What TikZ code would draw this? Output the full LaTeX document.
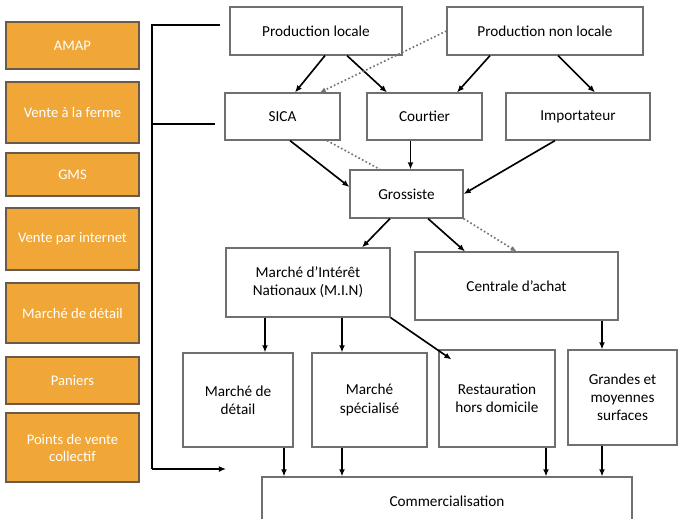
\documentclass[tikz,border=0pt]{standalone}
\usepackage{fontspec}
\setmainfont{Carlito}
\usetikzlibrary{arrows.meta,calc}
\definecolor{orangefill}{HTML}{F0A737}
\definecolor{orangeedge}{HTML}{6B5A48}
\definecolor{boxedge}{HTML}{707070}
\tikzset{
  obox/.style={draw=orangeedge, line width=1.3pt, fill=orangefill, text=white, align=center, inner sep=1pt, font=\fontsize{12.5}{14.5}\selectfont},
  wbox/.style={draw=boxedge, line width=1pt, fill=white, align=center, inner sep=1pt, font=\fontsize{13}{15.5}\selectfont},
  arr/.style={line width=1.4pt, -{Latex[length=6pt,width=5pt]}},
  dotarr/.style={line width=1.4pt, black!55, dotted, -{Latex[length=5pt,width=4.5pt]}},
  dotline/.style={line width=1.4pt, black!55, dotted},
  bracket/.style={line width=1.4pt}
}
\begin{document}
\begin{tikzpicture}[x=0.03cm,y=-0.03cm]
\useasboundingbox[fill=white] (0,0) rectangle (678,518);
% left orange boxes
\node[obox, minimum width=3.99cm, minimum height=1.41cm] (amap) at (72.5,45.5) {AMAP};
\node[obox, minimum width=3.99cm, minimum height=1.83cm] (vaf) at (72.5,112.5) {Vente à la ferme};
\node[obox, minimum width=3.99cm, minimum height=1.29cm] (gmsl) at (72.5,174.5) {GMS};
\node[obox, minimum width=3.99cm, minimum height=1.86cm] (vpi) at (72.5,239) {Vente par internet};
\node[obox, minimum width=3.99cm, minimum height=1.80cm] (mddl) at (72.5,313) {Marché de détail};
\node[obox, minimum width=3.99cm, minimum height=1.41cm] (pan) at (72.5,380.5) {Paniers};
\node[obox, minimum width=3.99cm, minimum height=2.07cm] (pvc) at (72.5,447.5) {Points de vente\\collectif};
% right boxes
\node[wbox, minimum width=5.16cm, minimum height=1.44cm] (pl) at (316,31) {Production locale};
\node[wbox, minimum width=5.88cm, minimum height=1.44cm] (pnl) at (545,31) {Production non locale};
\node[wbox, minimum width=3.45cm, minimum height=1.41cm] (sica) at (282.5,116.5) {SICA};
\node[wbox, minimum width=3.45cm, minimum height=1.41cm] (cou) at (424.5,116.5) {Courtier};
\node[wbox, minimum width=4.32cm, minimum height=1.41cm] (imp) at (578,116.5) {Importateur};
\node[wbox, minimum width=3.39cm, minimum height=1.44cm] (gros) at (406.5,194) {Grossiste};
\node[wbox, minimum width=4.92cm, minimum height=2.07cm] (min) at (308,282.5) {Marché d'Intérêt\\Nationaux (M.I.N)};
\node[wbox, minimum width=6.09cm, minimum height=2.04cm] (cen) at (516.5,286) {Centrale d'achat};
\node[wbox, minimum width=3.30cm, minimum height=2.82cm] (mdd) at (238,400) {Marché de\\détail};
\node[wbox, minimum width=3.45cm, minimum height=2.82cm] (msp) at (369.5,400) {Marché\\spécialisé};
\node[wbox, minimum width=3.48cm, minimum height=2.91cm] (rest) at (497,398.5) {Restauration\\hors domicile};
\node[wbox, minimum width=3.27cm, minimum height=2.85cm] (gmsr) at (622.5,397.5) {Grandes et\\moyennes\\surfaces};
\node[wbox, minimum width=11.1cm, minimum height=1.44cm] (comm) at (447,501) {Commercialisation};
% bracket
\coordinate (bt) at (220,25);
\coordinate (bm) at (215,124);
\coordinate (bb) at (226,469);
\draw[bracket] (bt) -- (152,25) -- (152,469);
\draw[bracket] (152,124) -- (bm);
\draw[arr] (152,469) -- (bb);
% arrows
\draw[arr] ($(pl.south)+(9,0)$) -- ($(sica.north)+(12.5,0)$);
\draw[arr] ($(pl.south)+(31,0)$) -- ($(cou.north)+(-37.5,0)$);
\draw[dotarr] (pnl.west) -- ($(sica.north)+(37.5,0)$);
\draw[arr] ($(pnl.south)+(-55,0)$) -- ($(cou.north)+(32.5,0)$);
\draw[arr] ($(pnl.south)+(13,0)$) -- ($(imp.north)+(17,0)$);
\draw[arr] ($(sica.south)+(7.5,0)$) -- ($(gros.west)+(0,-7)$);
\draw[dotline] ($(sica.south)+(44.5,0)$) -- ($(gros.north)+(-26.5,0)$);
\draw[arr] ($(cou.south)+(-14,0)$) -- ($(gros.north)+(4,0)$);
\draw[arr] ($(imp.south)+(-23,0)$) -- (gros.east);
\draw[arr] ($(gros.south)+(-16.5,0)$) -- ($(min.north)+(54,0)$);
\draw[arr] ($(gros.south)+(21.5,0)$) -- ($(cen.north)+(-51.5,0)$);
\draw[dotarr] (gros.south east) -- (cen.north);
\draw[arr] ($(min.south)+(-43,0)$) -- ($(mdd.north)+(27,0)$);
\draw[arr] ($(min.south)+(34,0)$) -- ($(msp.north)+(-27.5,0)$);
\draw[arr] (min.south east) -- ($(rest.north west)+(13,10)$);
\draw[arr] ($(cen.south)+(85.5,0)$) -- ($(gmsr.north)+(-20.5,0)$);
\draw[arr] ($(mdd.south)+(46,0)$) -- ($(comm.north)+(-163,0)$);
\draw[arr] ($(msp.south)+(-27.5,0)$) -- ($(comm.north)+(-105,0)$);
\draw[arr] ($(rest.south)+(49,0)$) -- ($(comm.north)+(99,0)$);
\draw[arr] ($(gmsr.south)+(-20.5,0)$) -- ($(comm.north)+(155,0)$);
\end{tikzpicture}
\end{document}
